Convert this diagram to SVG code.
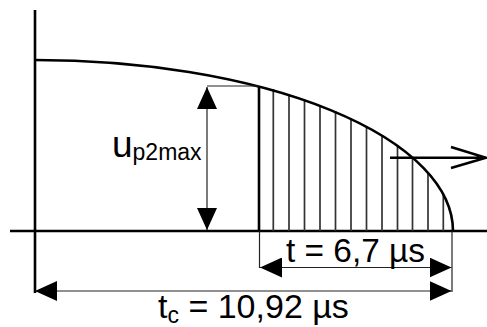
<svg xmlns="http://www.w3.org/2000/svg" width="487" height="327" viewBox="0 0 487 327">
<defs>
<style>
.thick{stroke:#000;stroke-width:2.6;fill:none}
.thin{stroke:#222;stroke-width:1.2;fill:none}
.hatch{stroke:#333;stroke-width:1.7;fill:none}
.lbl{font-family:"Liberation Sans",Arial,sans-serif;fill:#000}
</style>
<marker id="ah" viewBox="0 0 22 20" refX="22" refY="10" markerWidth="22" markerHeight="20" markerUnits="userSpaceOnUse" orient="auto-start-reverse">
<path d="M0,0 L22,10 L0,20 Z" fill="#000"/>
</marker>
</defs>
<rect width="487" height="327" fill="#fff"/>
<g id="axes">
<line class="thick" x1="35" y1="10" x2="35" y2="293"/>
<line class="thick" x1="10" y1="231" x2="487" y2="231"/>
</g>
<g id="hatching">
<line class="hatch" x1="273.3" y1="89" x2="273.3" y2="231"/>
<line class="hatch" x1="289" y1="94" x2="289" y2="231"/>
<line class="hatch" x1="304.5" y1="99" x2="304.5" y2="231"/>
<line class="hatch" x1="320" y1="105" x2="320" y2="231"/>
<line class="hatch" x1="335.5" y1="111" x2="335.5" y2="231"/>
<line class="hatch" x1="351" y1="118" x2="351" y2="231"/>
<line class="hatch" x1="366.5" y1="126" x2="366.5" y2="231"/>
<line class="hatch" x1="382" y1="135" x2="382" y2="231"/>
<line class="hatch" x1="397.5" y1="145" x2="397.5" y2="231"/>
<line class="hatch" x1="412.5" y1="157" x2="412.5" y2="231"/>
<line class="hatch" x1="428" y1="172" x2="428" y2="231"/>
<line class="hatch" x1="443.3" y1="193" x2="443.3" y2="231"/>
<line class="thick" x1="259" y1="86" x2="259" y2="231"/>
</g>
<g id="curve">
<path class="thick" d="M35,60 A418,171 0 0 1 453,231"/>
</g>
<g id="connectors">
<line class="thin" x1="207" y1="86" x2="259" y2="86"/>
<line class="thin" x1="207" y1="87" x2="207" y2="230" marker-start="url(#ah)" marker-end="url(#ah)"/>
<line class="thin" x1="259.5" y1="231" x2="259.5" y2="268"/>
<line class="thin" x1="452" y1="231" x2="452" y2="292"/>
<line class="thin" x1="260" y1="267.5" x2="451.5" y2="267.5" marker-start="url(#ah)" marker-end="url(#ah)"/>
<line class="thin" x1="35" y1="291" x2="451.5" y2="291" marker-start="url(#ah)" marker-end="url(#ah)"/>
<path class="thick" d="M390,157.7 H485 M451,147 L486,157.7 L451,168"/>
</g>
<g id="label-u">
<text class="lbl" x="112" y="157" font-size="37">u<tspan font-size="23" dy="2.5">p2max</tspan></text>
</g>
<g id="label-t">
<text class="lbl" x="286" y="262" font-size="33" textLength="139" lengthAdjust="spacingAndGlyphs">t = 6,7 µs</text>
</g>
<g id="label-tc">
<text class="lbl" x="158" y="318" font-size="34">t<tspan font-size="23" dy="5">c</tspan><tspan dy="-5"> = 10,92 µs</tspan></text>
</g>
</svg>
